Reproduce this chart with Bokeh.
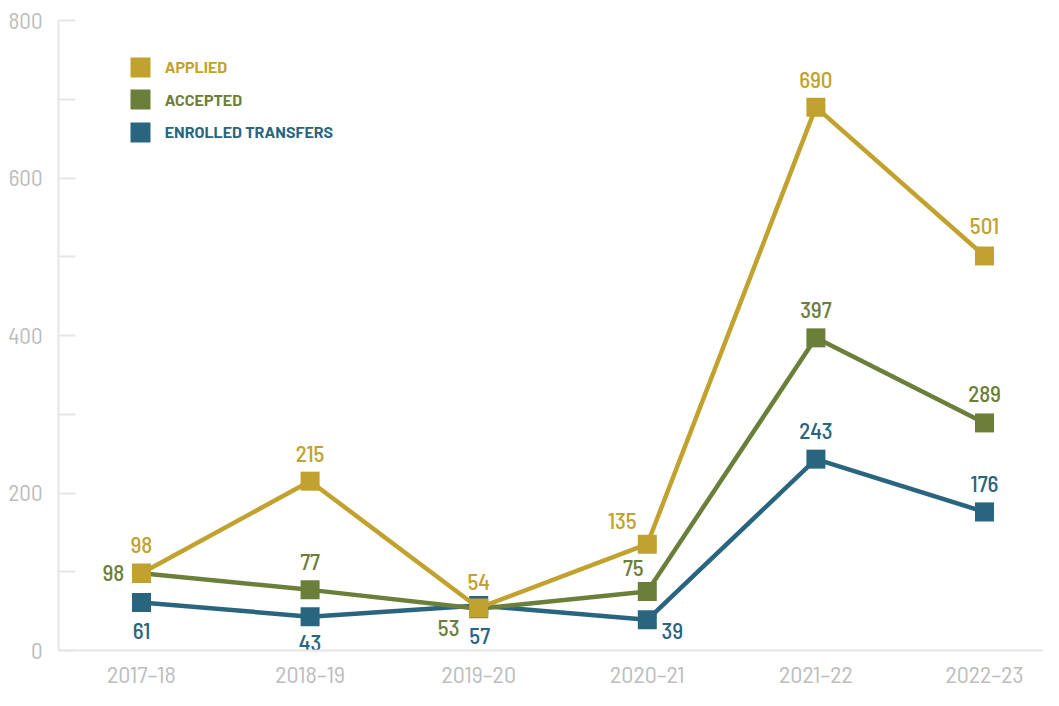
from bokeh.plotting import figure
from bokeh.models import Range1d, FixedTicker, Legend, LegendItem, ColumnDataSource
from bokeh.core.properties import value
from bokeh.embed import file_html
from bokeh.resources import INLINE

# ---- data ----
years = ["2017–18", "2018–19", "2019–20", "2020–21", "2021–22", "2022–23"]
applied = [98, 215, 54, 135, 690, 501]
accepted = [98, 77, 53, 75, 397, 289]
enrolled = [61, 43, 57, 39, 243, 176]
y_ticks = [0, 200, 400, 600, 800]
y_minor = [100, 300, 500, 700]
series_names = ["APPLIED", "ACCEPTED", "ENROLLED TRANSFERS"]

# ---- styles / label placement (screen px) ----
colors = {"APPLIED": "#C2A22E", "ACCEPTED": "#6C7F3A", "ENROLLED TRANSFERS": "#2A6580"}
label_dx = {"APPLIED": [0, 0, 0, -25, 0, 0],
            "ACCEPTED": [-28, 0, -30, -14, 0, 0],
            "ENROLLED TRANSFERS": [0, 0, 1, 25, 0, 0]}
label_dy = {"APPLIED": [-28, -27, -26, -23, -27, -30],
            "ACCEPTED": [0, -28, 19, -23, -28, -29],
            "ENROLLED TRANSFERS": [29, 26, 30, 11, -28, -28]}

FONT = "Barlow Semi Condensed"
FONT_MED = "'Barlow Semi Condensed Medium', 'Barlow Semi Condensed'"
GREY_TXT = "#bdbdbd"
AXIS = "#e6e6e6"

p = figure(width=1043, height=690, output_backend="svg", toolbar_location=None,
           x_range=Range1d(-0.4923, 5.350), y_range=Range1d(0, 800),
           min_border_left=58, min_border_right=0, min_border_top=20, min_border_bottom=40)
p.outline_line_color = None
p.xgrid.visible = False
p.ygrid.visible = False
p.background_fill_color = "white"
p.border_fill_color = "white"

# axes
p.xaxis.ticker = FixedTicker(ticks=list(range(len(years))))
p.xaxis.major_label_overrides = {i: y for i, y in enumerate(years)}
p.xaxis.axis_line_color = AXIS
p.xaxis.axis_line_width = 2
p.xaxis.major_tick_in = 0
p.xaxis.major_tick_out = 0
p.xaxis.minor_tick_in = 0
p.xaxis.minor_tick_out = 0
p.xaxis.major_label_text_color = GREY_TXT
p.xaxis.major_label_text_font = FONT
p.xaxis.major_label_text_font_size = "24px"
p.xaxis.major_label_standoff = 8

p.yaxis.ticker = FixedTicker(ticks=y_ticks, minor_ticks=y_minor)
p.yaxis.axis_line_color = AXIS
p.yaxis.axis_line_width = 2
p.yaxis.major_tick_in = 17
p.yaxis.major_tick_out = 0
p.yaxis.minor_tick_in = 17
p.yaxis.minor_tick_out = 0
p.yaxis.major_tick_line_color = AXIS
p.yaxis.minor_tick_line_color = AXIS
p.yaxis.major_tick_line_width = 2
p.yaxis.minor_tick_line_width = 2
p.yaxis.major_label_text_color = GREY_TXT
p.yaxis.major_label_text_font = FONT
p.yaxis.major_label_text_font_size = "23px"
p.yaxis.major_label_standoff = 16

xs = list(range(len(years)))
data = {"APPLIED": applied, "ACCEPTED": accepted, "ENROLLED TRANSFERS": enrolled}

markers = {}
# draw bottom-to-top: enrolled, accepted, applied
for name in ["ENROLLED TRANSFERS", "ACCEPTED", "APPLIED"]:
    c = colors[name]
    src = ColumnDataSource(dict(x=xs, y=data[name], t=[str(v) for v in data[name]],
                                dx=label_dx[name], dy=label_dy[name]))
    p.line("x", "y", source=src, line_color=c, line_width=4.5)
    markers[name] = p.scatter("x", "y", source=src, marker="square", size=19,
                              fill_color=c, line_color=None)
    p.text("x", "y", text="t", source=src, x_offset="dx", y_offset="dy",
           text_align="center", text_baseline="middle", text_color=c,
           text_font=value(FONT_MED), text_font_size="23px")

# legend: one legend per series so each label carries its own colour
legend_bottoms = [558.3, 525.7, 493.3]
for name, yb in zip(series_names, legend_bottoms):
    c = colors[name]
    lg = Legend(items=[LegendItem(label=name, renderers=[markers[name]])],
                location=(56.7, yb), margin=0, padding=0,
                border_line_color=None, background_fill_alpha=0,
                glyph_width=50, glyph_height=50, label_height=50,
                label_standoff=-7, label_text_color=c,
                label_text_font="Barlow", label_text_font_style="bold",
                label_text_font_size="16px")
    p.add_layout(lg, "center")

open("out.html", "w").write(file_html(p, INLINE))
